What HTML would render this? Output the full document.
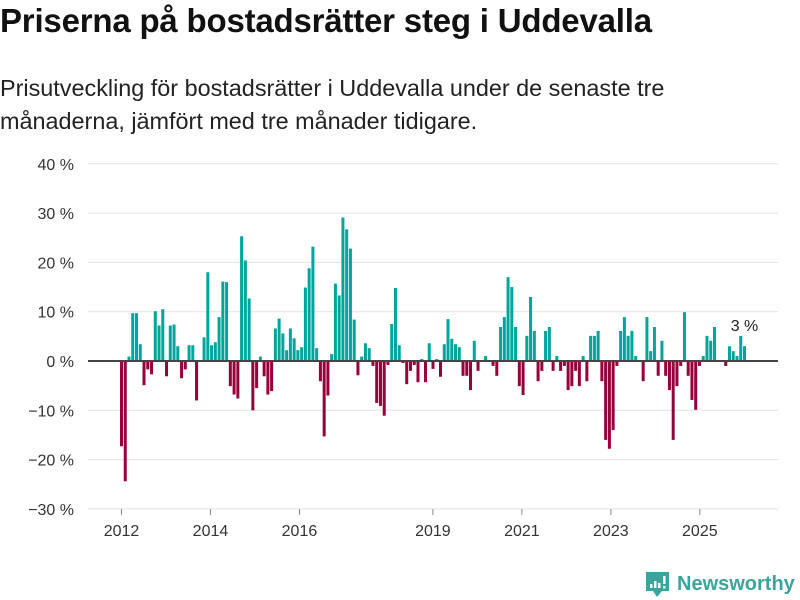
<!DOCTYPE html>
<html><head><meta charset="utf-8">
<style>
body{margin:0;width:800px;height:600px;background:#fff;font-family:"Liberation Sans",sans-serif;overflow:hidden;position:relative;color:#111}
h1{position:absolute;left:0;top:2px;margin:0;font-size:33px;font-weight:bold;letter-spacing:-0.2px}
p{position:absolute;left:0;top:72px;margin:0;font-size:23.4px;line-height:33px;color:#222;width:780px}
svg{position:absolute;left:0;top:0}
</style></head><body>
<h1>Priserna på bostadsrätter steg i Uddevalla</h1>
<p>Prisutveckling för bostadsrätter i Uddevalla under de senaste tre<br>månaderna, jämfört med tre månader tidigare.</p>
<svg id="chart" width="800" height="600"></svg>
<script>
const values=[-17.3,-24.4,0.9,9.7,9.7,3.4,-4.9,-1.7,-2.7,10.1,7.2,10.5,-3.1,7.2,7.4,3.0,-3.5,-1.7,3.2,3.2,-8.0,0,4.8,18.0,3.2,3.8,8.9,16.1,16.0,-5.1,-6.8,-7.6,
25.3,20.4,12.7,-10.0,-5.5,0.9,-3.1,-6.8,-6.1,6.6,8.6,5.6,2.2,6.6,4.6,2.2,2.8,14.9,18.8,23.2,2.6,-4.1,-15.3,-7.0,1.4,15.7,13.3,29.1,26.7,22.8,8.4,-2.9,0.9,
3.6,2.6,-1.0,-8.5,-9.1,-11.1,-0.8,7.5,14.8,3.2,-0.4,-4.7,-2.0,-0.8,-4.3,0.4,-4.3,3.6,-1.6,0.4,-3.2,3.4,8.5,4.5,3.4,2.8,-3.0,-3.0,-5.9,4.1,-2.0,0,1.0,
0,-1.0,-3.0,6.9,8.9,17.0,15.0,6.9,-5.1,-6.9,5.1,13.0,6.1,-4.1,-2.0,6.1,6.9,-2.0,1.0,-2.0,-1.0,-5.9,-5.1,-2.0,-5.1,1.0,-4.1,5.1,5.1,6.1,-4.1,-16.0,-17.8,-14.0,
-1.0,6.1,8.9,5.1,6.1,1.0,0,-4.1,8.9,2.0,6.9,-3.0,4.1,-3.0,-5.9,-16.0,-5.1,-1.0,9.9,-3.0,-7.9,-9.9,-1.0,1.0,5.1,4.1,6.9,0,0,-1.0,3.0,2.0,1.0,5.1,3.0];
const yTicks=[40,30,20,10,0,-10,-20,-30];
const xYears=[2012,2014,2016,2019,2021,2023,2025];
const startYear=2012;
const annotation="3 %";
const svg=document.getElementById('chart');
const NS='http://www.w3.org/2000/svg';
const y=v=>361-v*4.93;
const x=i=>120+i*3.753;
function mk(t,a){const e=document.createElementNS(NS,t);for(const k in a)e.setAttribute(k,a[k]);svg.appendChild(e);return e;}
yTicks.forEach(t=>{
  const l=mk('line',{x1:88,x2:778,y1:y(t),y2:y(t),stroke:'#e2e2e2','stroke-width':1});
  
  
  const tx=mk('text',{x:74,y:y(t)+6,'text-anchor':'end','font-size':16,fill:'#333'});
  tx.textContent=(t<0?'\u2212'+(-t):t)+' %';
  
  
});
values.forEach((v,i)=>{
  if(v===0)return;
  const r=mk('rect',{x:x(i),width:3,y:Math.min(y(v),y(0)),height:Math.abs(y(v)-y(0)),fill:v>0?'#00a69c':'#99003a'});
  
  
});
const z=mk('line',{x1:88,x2:778,y1:y(0),y2:y(0),stroke:'#444','stroke-width':2});


xYears.forEach(yr=>{
  const i=(yr-startYear)*12;
  const cx=x(i)+1.5-(yr-startYear)*0.55;
  const tk=mk('line',{x1:cx,x2:cx,y1:509,y2:515,stroke:'#888'});
  
  
  const t=mk('text',{x:cx,y:536,'text-anchor':'middle','font-size':16,fill:'#333'});
  t.textContent=yr;
  
  
});
const a=mk('text',{x:x(values.length-1)+1.5,y:331,'text-anchor':'middle','font-size':16,fill:'#222'});
a.textContent=annotation;


</script>
<svg width="800" height="600" style="pointer-events:none">
<path d="M646 572 h23 v19 h-7 l-5 6 l-4 -6 h-7 z" fill="#3aa59a"/>
<rect x="650" y="584" width="2.5" height="4" fill="#fff"/><rect x="654" y="581" width="2.5" height="7" fill="#fff"/><rect x="658" y="583" width="2.5" height="5" fill="#fff"/><rect x="663" y="576" width="2.5" height="8" fill="#fff"/><rect x="663" y="586" width="2.5" height="2.5" fill="#fff"/>
<text x="677" y="590" font-size="20" font-family="Liberation Sans, sans-serif" fill="#3aa59a" font-weight="bold">Newsworthy</text>
</svg>
</body></html>
